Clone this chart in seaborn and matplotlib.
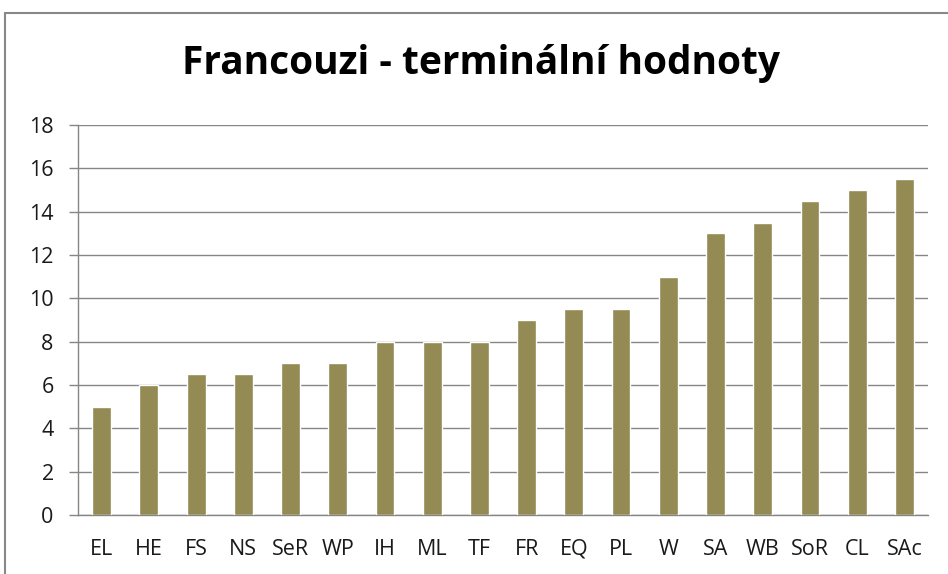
import matplotlib
matplotlib.use("Agg")
import matplotlib.pyplot as plt
import seaborn as sns
import pandas as pd
import numpy as np
from matplotlib.lines import Line2D

categories = ["EL", "HE", "FS", "NS", "SeR", "WP", "IH", "ML", "TF", "FR",
              "EQ", "PL", "W", "SA", "WB", "SoR", "CL", "SAc"]
values = [5, 6, 6.5, 6.5, 7, 7, 8, 8, 8, 9, 9.5, 9.5, 11, 13, 13.5, 14.5, 15, 15.5]
yticks = [0, 2, 4, 6, 8, 10, 12, 14, 16, 18]
title = "Francouzi - terminální hodnoty"

sns.set_theme(style="white")
plt.rcParams['font.family'] = ['Open Sans', 'DejaVu Sans']

df = pd.DataFrame({"cat": categories, "val": values})

fig = plt.figure(figsize=(9.48, 5.74), dpi=100)
ax = fig.add_axes([78/948, 1 - 515/574, (928 - 78)/948, (515 - 125)/574])

sns.barplot(data=df, x="cat", y="val", color="#948A54", width=0.4,
            saturation=1, ax=ax, zorder=3)

ax.set_ylim(0, 18)
ax.set_xlim(-0.5, len(categories) - 0.5)
ax.set_yticks(yticks)
ax.set_yticklabels([str(t) for t in yticks], fontsize=15.5, color="#1a1a1a")
ax.set_xticks(range(len(categories)))
ax.set_xticklabels(categories, fontsize=15.5, color="#1a1a1a")
ax.set_xticks(np.arange(-0.5, len(categories), 1.0), minor=True)
ax.tick_params(axis="x", which="major", length=0, pad=17)
ax.tick_params(axis="x", which="minor", length=6, width=1, color="#868686", direction="out")
ax.tick_params(axis="y", length=6.5, width=1, color="#868686", direction="out", pad=11, left=True)
ax.set_xlabel("")
ax.set_ylabel("")

ax.yaxis.grid(True, color="#868686", linewidth=1, zorder=0)
ax.set_axisbelow(True)
for s in ["top", "right"]:
    ax.spines[s].set_visible(False)
for s in ["left", "bottom"]:
    ax.spines[s].set_color("#868686")
    ax.spines[s].set_linewidth(1)

fig.text(481/948, 1 - 74/574, title, ha="center", va="baseline", fontsize=28,
         fontweight="bold", color="black")

# outer chart border (top and left visible)
fig.add_artist(Line2D([5/948, 5/948], [0, 1 - 13/574], transform=fig.transFigure,
                      color="#888888", linewidth=1.5))
fig.add_artist(Line2D([5/948, 1], [1 - 13/574, 1 - 13/574], transform=fig.transFigure,
                      color="#888888", linewidth=1.5))

fig.savefig("out.png", dpi=100)
